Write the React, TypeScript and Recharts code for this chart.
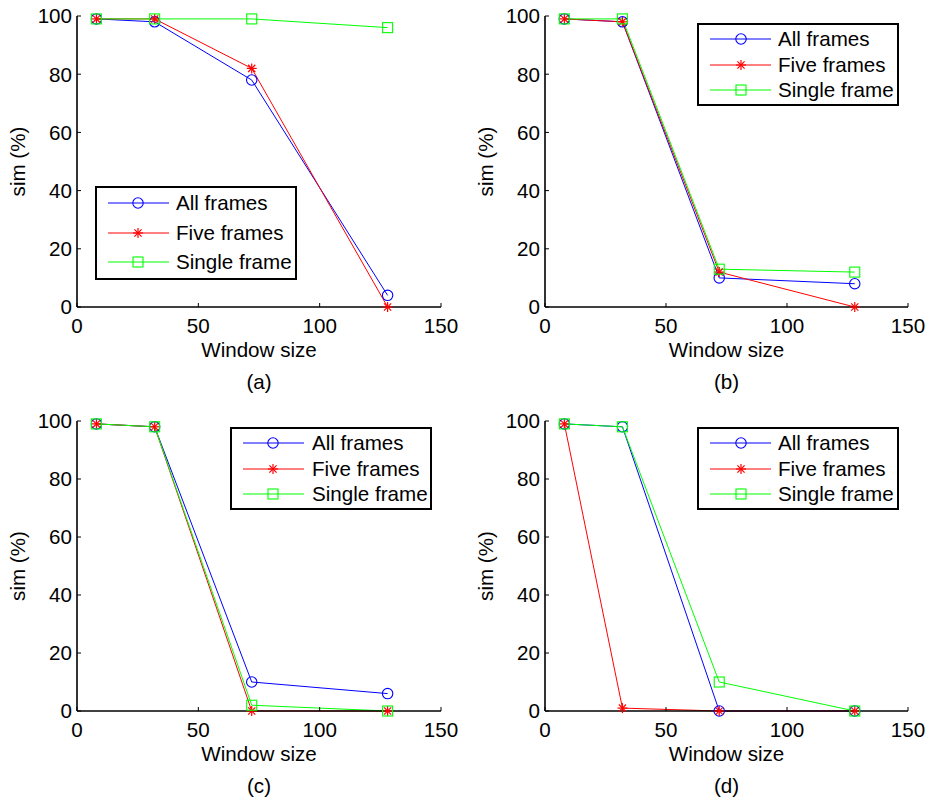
import React from 'react';
import { LineChart, Line, XAxis, YAxis, Legend } from 'recharts';

// ---------- data ----------
const windowSizes = [8, 32, 72, 128];
const seriesNames = ['All frames', 'Five frames', 'Single frame'];
const xTicks = [0, 50, 100, 150];
const yTicks = [0, 20, 40, 60, 80, 100];
const panelLabels = ['(a)', '(b)', '(c)', '(d)'];
const xAxisTitle = 'Window size';
const yAxisTitle = 'sim (%)';

const allFramesA = [99, 98, 78, 4];
const fiveFramesA = [99, 99, 82, 0];
const singleFrameA = [99, 99, 99, 96];

const allFramesB = [99, 98, 10, 8];
const fiveFramesB = [99, 98, 12, 0];
const singleFrameB = [99, 99, 13, 12];

const allFramesC = [99, 98, 10, 6];
const fiveFramesC = [99, 98, 0, 0];
const singleFrameC = [99, 98, 2, 0];

const allFramesD = [99, 98, 0, 0];
const fiveFramesD = [99, 1, 0, 0];
const singleFrameD = [99, 98, 10, 0];

// ---------- styles / layout ----------
const FONT = '"Liberation Sans", Arial, Helvetica, sans-serif';
const FS = 20.6;
const TICK = 4;
const XTM = 11;
const YTM = 5;
const AXW = 1.6;
const BLUE = '#0000ff';
const RED = '#ff0000';
const GREEN = '#00ff00';
const COLORS = [BLUE, RED, GREEN];
const KEYS = ['all', 'five', 'single'];

const panels = [
  { left: 0, top: 0, x0: 77, x1: 441, y0: 16, y1: 307, lg: { x: 95, y: 186, w: 202, h: 94, rows: [17, 47, 76], lx0: 13, lx1: 74, mx: 43, tx: 81 } },
  { left: 465, top: 0, x0: 80, x1: 443, y0: 16, y1: 307, lg: { x: 232, y: 23, w: 202, h: 83, rows: [16, 42, 67], lx0: 13, lx1: 74, mx: 44, tx: 81 } },
  { left: 0, top: 400, x0: 77, x1: 441, y0: 21, y1: 311, lg: { x: 230, y: 27, w: 202, h: 83, rows: [16, 42, 67], lx0: 13, lx1: 74, mx: 43, tx: 82 } },
  { left: 465, top: 400, x0: 80, x1: 443, y0: 21, y1: 311, lg: { x: 232, y: 27, w: 202, h: 83, rows: [16, 42, 67], lx0: 13, lx1: 74, mx: 44, tx: 81 } },
];

const seriesSets = [
  [allFramesA, fiveFramesA, singleFrameA],
  [allFramesB, fiveFramesB, singleFrameB],
  [allFramesC, fiveFramesC, singleFrameC],
  [allFramesD, fiveFramesD, singleFrameD],
];

const W = 465;
const H = 400;

// ---------- markers ----------
const CircleMark = ({ cx, cy }: any) => (
  <circle cx={cx} cy={cy} r={5.2} fill="none" stroke={BLUE} strokeWidth={1.1} />
);
const StarMark = ({ cx, cy }: any) => {
  const r = 5;
  const d = 3.6;
  return (
    <g stroke={RED} strokeWidth={1.2}>
      <line x1={cx - r} y1={cy} x2={cx + r} y2={cy} />
      <line x1={cx} y1={cy - r} x2={cx} y2={cy + r} />
      <line x1={cx - d} y1={cy - d} x2={cx + d} y2={cy + d} />
      <line x1={cx - d} y1={cy + d} x2={cx + d} y2={cy - d} />
    </g>
  );
};
const SquareMark = ({ cx, cy }: any) => (
  <rect x={cx - 5} y={cy - 5} width={10} height={10} fill="none" stroke={GREEN} strokeWidth={1.1} />
);
const MARKS = [CircleMark, StarMark, SquareMark];

// ---------- ticks ----------
const BottomTick = (props: any) => {
  const { x, y, payload } = props;
  return (
    <g>
      <line x1={x} y1={y - XTM} x2={x} y2={y - XTM - TICK} stroke="#000" />
      <text x={x} y={y} dy="0.71em" textAnchor="middle" fontSize={FS} fill="#000" fontFamily={FONT}>
        {payload.value}
      </text>
    </g>
  );
};
const LeftTick = (props: any) => {
  const { x, y, payload } = props;
  return (
    <g>
      <line x1={x + YTM} y1={y} x2={x + YTM + TICK} y2={y} stroke="#000" />
      <text x={x} y={y} dy="0.355em" textAnchor="end" fontSize={FS} fill="#000" fontFamily={FONT}>
        {payload.value}
      </text>
    </g>
  );
};
const TopTick = (props: any) => {
  const { x, y } = props;
  return <line x1={x} y1={y} x2={x} y2={y + TICK} stroke="#000" />;
};
const RightTick = (props: any) => {
  const { x, y } = props;
  return <line x1={x} y1={y} x2={x - TICK} y2={y} stroke="#000" />;
};

// ---------- legend ----------
const LegendBox = ({ lg }: any) => (
  <svg width={lg.w} height={lg.h} style={{ display: 'block' }}>
    <rect x={1} y={1} width={lg.w - 2} height={lg.h - 2} fill="#fff" stroke="#000" strokeWidth={2} />
    {seriesNames.map((name, i) => {
      const Mark = MARKS[i];
      const ry = lg.rows[i];
      return (
        <g key={name}>
          <line x1={lg.lx0} y1={ry} x2={lg.lx1} y2={ry} stroke={COLORS[i]} strokeWidth={1} />
          <Mark cx={lg.mx} cy={ry} />
          <text x={lg.tx} y={ry} dy="0.355em" fontSize={FS} fill="#000" fontFamily={FONT}>
            {name}
          </text>
        </g>
      );
    })}
  </svg>
);

const Panel = ({ idx }: { idx: number }) => {
  const p = panels[idx];
  const [s0, s1, s2] = seriesSets[idx];
  const data = windowSizes.map((w, i) => ({ w, all: s0[i], five: s1[i], single: s2[i] }));
  const plotCx = (p.x0 + p.x1) / 2;
  const plotCy = (p.y0 + p.y1) / 2;
  const xLabel = () => (
    <g>
      <text x={plotCx} y={p.y1 + 50} textAnchor="middle" fontSize={FS} fill="#000" fontFamily={FONT}>
        {xAxisTitle}
      </text>
      <text x={plotCx} y={p.y1 + 82} textAnchor="middle" fontSize={FS} fill="#000" fontFamily={FONT}>
        {panelLabels[idx]}
      </text>
    </g>
  );
  const yLabel = () => (
    <text
      x={p.x0 - 59}
      y={plotCy}
      dy="0.35em"
      textAnchor="middle"
      fontSize={FS}
      fill="#000"
      fontFamily={FONT}
      transform={`rotate(-90, ${p.x0 - 59}, ${plotCy})`}
    >
      {yAxisTitle}
    </text>
  );
  return (
    <div style={{ position: 'absolute', left: p.left, top: p.top, width: W, height: H }}>
      <LineChart
        width={W}
        height={H}
        data={data}
        margin={{ top: p.y0, right: W - p.x1, bottom: 0, left: 0 }}
      >
        <XAxis
          type="number"
          dataKey="w"
          domain={[0, 150]}
          ticks={xTicks}
          height={H - p.y1}
          tickSize={0}
          tickMargin={XTM}
          tick={BottomTick}
          axisLine={{ stroke: '#000', strokeWidth: AXW }}
          label={xLabel}
        />
        <XAxis
          xAxisId="top"
          orientation="top"
          type="number"
          dataKey="w"
          domain={[0, 150]}
          ticks={xTicks}
          height={0}
          tickSize={0}
          tickMargin={0}
          tick={TopTick}
          axisLine={{ stroke: '#000', strokeWidth: AXW }}
        />
        <YAxis
          type="number"
          domain={[0, 100]}
          ticks={yTicks}
          width={p.x0}
          tickSize={0}
          tickMargin={YTM}
          tick={LeftTick}
          axisLine={{ stroke: '#000', strokeWidth: AXW }}
          label={yLabel}
        />
        <YAxis
          yAxisId="right"
          orientation="right"
          type="number"
          domain={[0, 100]}
          ticks={yTicks}
          width={0}
          tickSize={0}
          tickMargin={0}
          tick={RightTick}
          axisLine={{ stroke: '#000', strokeWidth: AXW }}
        />
        {KEYS.map((k, i) => {
          const Mark = MARKS[i];
          return (
            <Line
              key={k}
              type="linear"
              dataKey={k}
              stroke={COLORS[i]}
              strokeWidth={1}
              isAnimationActive={false}
              dot={(dp: any) => <Mark key={`${k}-${dp.index}`} cx={dp.cx} cy={dp.cy} />}
              activeDot={false}
            />
          );
        })}
        <Legend
          layout="horizontal"
          verticalAlign="middle"
          align="center"
          wrapperStyle={{ position: 'absolute', left: p.lg.x, top: p.lg.y, width: p.lg.w, height: p.lg.h }}
          content={() => <LegendBox lg={p.lg} />}
        />
      </LineChart>
    </div>
  );
}

export default function App() {
  return (
    <div style={{ position: 'absolute', left: 0, top: 0, width: 930, height: 801, background: '#fff' }}>
      {panels.map((_, i) => (
        <Panel key={i} idx={i} />
      ))}
    </div>
  );
}
